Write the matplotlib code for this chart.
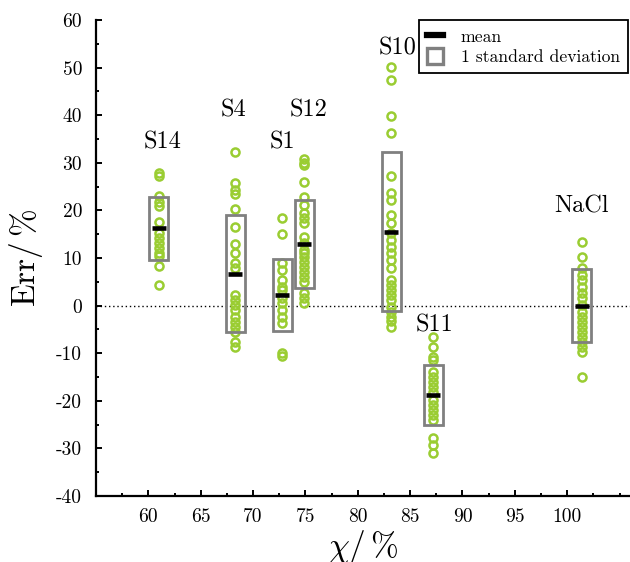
import matplotlib
matplotlib.use("Agg")
import matplotlib.pyplot as plt
from matplotlib.patches import Rectangle, Patch
from matplotlib.lines import Line2D
from matplotlib.ticker import MultipleLocator

plt.rcParams['font.family'] = 'serif'
plt.rcParams['font.serif'] = ['cmr10', 'DejaVu Serif']
plt.rcParams['mathtext.fontset'] = 'cm'
plt.rcParams['axes.unicode_minus'] = False

# samples, composition (%) and label positions
names = ["S14", "S4", "S1", "S12", "S10", "S11", "NaCl"]
chi = [61.0, 68.3, 72.8, 74.9, 83.2, 87.2, 101.4]
label_x = [61.4, 68.1, 72.8, 75.3, 83.8, 87.3, 101.4]
label_y = [34.2, 41.1, 34.2, 41.1, 54.1, -4.1, 20.9]

# relative errors (%) of each measurement
s14_err = [27.8, 27.2, 23.0, 21.8, 20.9, 17.6, 15.2, 14.1, 13.1, 12.2, 11.0, 10.4, 8.3, 4.3]
s4_err = [32.2, 25.8, 24.3, 23.4, 20.2, 16.6, 13.0, 11.0, 8.9, 8.0, 2.2, 1.2, 0.1, -1.0,
          -2.3, -3.4, -4.4, -5.5, -7.6, -8.6]
s1_err = [18.3, 15.0, 9.0, 7.5, 5.4, 4.0, 3.3, 1.5, 0.5, -0.9, -2.3, -3.7, -10.0, -10.5]
s12_err = [30.7, 30.0, 29.5, 26.0, 22.9, 21.1, 19.4, 18.5, 17.3, 14.5, 13.1, 11.7, 11.0,
           10.3, 9.2, 8.2, 7.1, 6.1, 5.0, 2.6, 1.5, 0.5]
s10_err = [50.1, 47.3, 39.9, 36.2, 27.2, 23.6, 22.2, 19.0, 17.3, 15.2, 13.8, 12.4, 11.0,
           9.6, 8.0, 5.4, 4.3, 3.3, 2.2, 1.2, -0.2, -1.3, -2.3, -3.3, -4.5]
s11_err = [-6.5, -8.6, -10.7, -11.4, -13.9, -14.9, -16.0, -17.0, -18.1, -19.8, -20.9,
           -21.9, -23.0, -24.0, -27.9, -29.3, -31.0]
nacl_err = [13.3, 10.3, 7.8, 6.4, 5.4, 4.0, 2.6, 1.5, 0.1, -1.3, -2.3, -3.4, -4.4, -5.5,
            -6.5, -7.6, -8.6, -9.7, -14.9]

# mean and standard deviation per sample
means = [16.2, 6.7, 2.2, 12.9, 15.5, -18.8, 0.0]
stds = [6.7, 12.25, 7.5, 9.2, 16.7, 6.25, 7.65]

errs = [s14_err, s4_err, s1_err, s12_err, s10_err, s11_err, nacl_err]

green = '#9acd32'
grey = '#808080'
box_w = 1.8
bar_w = 1.35

fig = plt.figure(figsize=(6.3, 5.62), dpi=100)
ax = fig.add_axes([96 / 630, 1 - 496 / 562, 1 - 96 / 630, (496 - 20) / 562])

ax.axhline(0, color='k', ls=(0, (1, 2)), lw=1.0, zorder=1)

for x, e, m, s, n, lx, ly in zip(chi, errs, means, stds, names, label_x, label_y):
    ax.plot([x] * len(e), e, 'o', mfc='none', mec=green, ms=5.8, mew=1.8, zorder=2)
    ax.add_patch(Rectangle((x - box_w / 2, m - s), box_w, 2 * s, fill=False,
                           ec=grey, lw=2.0, zorder=3))
    ax.hlines(m, x - bar_w / 2, x + bar_w / 2, color='k', lw=3.3, zorder=4)
    ax.text(lx, ly, n, ha='center', va='center', fontsize=17.5)

ax.set_xlim(55, 106)
ax.set_ylim(-40, 60)
ax.xaxis.set_minor_locator(MultipleLocator(2.5))
ax.yaxis.set_major_locator(MultipleLocator(10))
ax.yaxis.set_minor_locator(MultipleLocator(5))
ax.set_xticks([60, 65, 70, 75, 80, 85, 90, 95, 100])
ax.tick_params(which='both', direction='in', width=1.4, labelsize=14)
ax.tick_params(which='major', length=4.5)
ax.tick_params(which='minor', length=2.5)
ax.tick_params(axis='y', pad=10)
ax.tick_params(axis='x', pad=9)

for side in ['top', 'right']:
    ax.spines[side].set_visible(False)
for side in ['left', 'bottom']:
    ax.spines[side].set_linewidth(1.6)

ax.set_ylabel(r'$\mathrm{Err}/\,\%$', fontsize=24, labelpad=8)
ax.set_xlabel(r'$\chi/\,\%$', fontsize=24, labelpad=1)

handles = [Line2D([], [], color='k', lw=4.5),
           Patch(facecolor='none', edgecolor=grey, lw=2.4)]
leg = ax.legend(handles, ['mean', '1 standard deviation'], loc='upper left',
                bbox_to_anchor=(0.605, 1.0), borderaxespad=0, fontsize=12.7,
                frameon=True, fancybox=False, edgecolor='k', framealpha=1,
                handlelength=0.9, handleheight=1.0, handletextpad=1.0,
                labelspacing=0.2, borderpad=0.45)
leg.get_frame().set_linewidth(1.3)

fig.savefig('out.png', dpi=100)
